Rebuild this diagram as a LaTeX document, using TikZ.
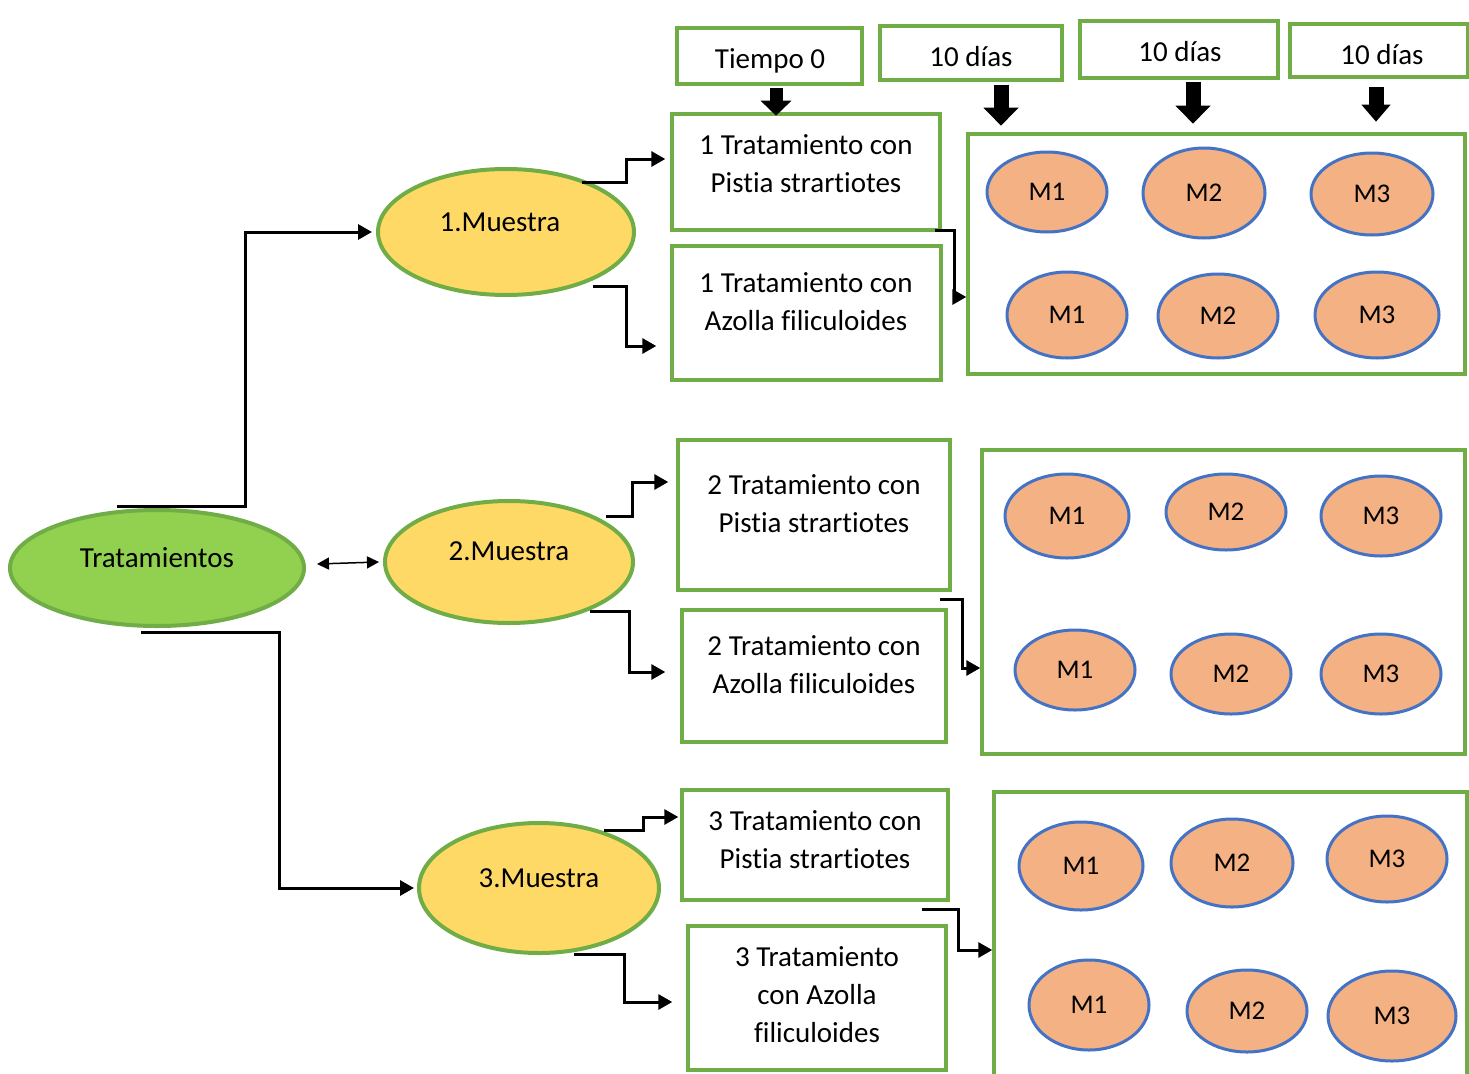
\documentclass[tikz,border=0pt]{standalone}
\usepackage{fontspec}
\setmainfont{Carlito}[Ligatures={NoCommon,NoRare,NoContextual}]
\usetikzlibrary{shapes.geometric,arrows.meta,calc}
\definecolor{gborder}{HTML}{70AD47}
\definecolor{yfill}{HTML}{FFD966}
\definecolor{gfill}{HTML}{92D050}
\definecolor{ofill}{HTML}{F4B183}
\definecolor{mblue}{HTML}{4472C4}
\begin{document}
\begin{tikzpicture}[x=1pt,y=-1pt,
  box/.style={draw=gborder, line width=3.4pt, fill=white, inner sep=0pt, rectangle},
  txt/.style={font=\fontsize{29}{38}\selectfont, align=center, inner sep=0pt},
  sample/.style={ellipse, draw=mblue, fill=ofill, line width=3pt, inner sep=0pt, font=\fontsize{27}{32}\selectfont},
  muestra/.style={ellipse, draw=gborder, fill=yfill, line width=4pt, inner sep=0pt},
  conn/.style={line width=3pt, -{Triangle[length=14pt,width=15pt]}},
  dconn/.style={line width=1.5pt, {Triangle[length=12pt,width=12pt]}-{Triangle[length=12pt,width=12pt]}},
  blockarr/.style={line width=15pt, -{Triangle[length=18pt,width=34pt]}}
]
\useasboundingbox (0,0) rectangle (1469,1073);

% top boxes
\node[box, minimum width=185pt, minimum height=56pt] (tiempo) at (769.5,56) {};
\node[txt] (tiempotxt) at (770,61) {Tiempo 0};
\node[box, minimum width=182pt, minimum height=54pt] (d1) at (971,53) {};
\node[txt] (d1txt) at (971,57) {10 días};
\node[box, minimum width=198pt, minimum height=57pt] (d2) at (1179,49.5) {};
\node[txt] (d2txt) at (1180,52) {10 días};
\node[box, minimum width=178pt, minimum height=53pt] (d3) at (1379,50.5) {};
\node[txt] (d3txt) at (1382,55) {10 días};

% treatment boxes
\node[box, minimum width=268pt, minimum height=116pt] (t1p) at (806,172) {};
\node[txt] (t1ptxt) at (806,164) {1 Tratamiento con\\Pistia strartiotes};
\node[box, minimum width=269pt, minimum height=134pt] (t1a) at (806.5,313) {};
\node[txt] (t1atxt) at (806,302) {1 Tratamiento con\\Azolla filiculoides};
\node[box, minimum width=272pt, minimum height=150pt] (t2p) at (814,515) {};
\node[txt] (t2ptxt) at (814,504) {2 Tratamiento con\\Pistia strartiotes};
\node[box, minimum width=264pt, minimum height=132pt] (t2a) at (814,676) {};
\node[txt] (t2atxt) at (814,665) {2 Tratamiento con\\Azolla filiculoides};
\node[box, minimum width=266pt, minimum height=110pt] (t3p) at (815,845) {};
\node[txt] (t3ptxt) at (815,840) {3 Tratamiento con\\Pistia strartiotes};
\node[box, minimum width=258pt, minimum height=144pt] (t3a) at (817,998) {};
\node[txt] (t3atxt) at (817,995) {3 Tratamiento\\con Azolla\\filiculoides};

% big boxes
\node[box, minimum width=497pt, minimum height=240pt] (b1) at (1216.5,254) {};
\node[box, minimum width=483pt, minimum height=304pt] (b2) at (1223.5,602) {};
\node[box, minimum width=473pt, minimum height=288pt] (b3) at (1230.5,936) {};

% samples
\node[sample, minimum width=120pt, minimum height=80pt] (s11) at (1047,192) {M1};
\node[sample, minimum width=122pt, minimum height=90pt] (s12) at (1204,193) {M2};
\node[sample, minimum width=122pt, minimum height=82pt] (s13) at (1372,194) {M3};
\node[sample, minimum width=120pt, minimum height=86pt] (s14) at (1067,315) {M1};
\node[sample, minimum width=120pt, minimum height=84pt] (s15) at (1218,316) {M2};
\node[sample, minimum width=124pt, minimum height=86pt] (s16) at (1377,315) {M3};

\node[sample, minimum width=124pt, minimum height=84pt] (s21) at (1067,516) {M1};
\node[sample, minimum width=120pt, minimum height=76pt] (s22) at (1226,512) {M2};
\node[sample, minimum width=120pt, minimum height=80pt] (s23) at (1381,516) {M3};
\node[sample, minimum width=120pt, minimum height=80pt] (s24) at (1075,670) {M1};
\node[sample, minimum width=120pt, minimum height=80pt] (s25) at (1231,674) {M2};
\node[sample, minimum width=120pt, minimum height=80pt] (s26) at (1381,674) {M3};

\node[sample, minimum width=124pt, minimum height=88pt] (s31) at (1081,866) {M1};
\node[sample, minimum width=122pt, minimum height=88pt] (s32) at (1232,863) {M2};
\node[sample, minimum width=120pt, minimum height=86pt] (s33) at (1387,859) {M3};
\node[sample, minimum width=120pt, minimum height=90pt] (s34) at (1089,1005) {M1};
\node[sample, minimum width=120pt, minimum height=82pt] (s35) at (1247,1011) {M2};
\node[sample, minimum width=128pt, minimum height=90pt] (s36) at (1392,1016) {M3};

% main ellipses
\node[ellipse, draw=gborder, fill=gfill, line width=4pt, inner sep=0pt, minimum width=294pt, minimum height=116pt] (tr) at (157,568) {};
\node[txt] (trtxt) at (157,558) {Tratamientos};
\node[muestra, minimum width=256pt, minimum height=126pt] (m1) at (506,232) {};
\node[txt] (m1txt) at (500,222) {1.Muestra};
\node[muestra, minimum width=248pt, minimum height=122pt] (m2) at (509,562) {};
\node[txt] (m2txt) at (509,551) {2.Muestra};
\node[muestra, minimum width=240pt, minimum height=130pt] (m3) at (539,888) {};
\node[txt] (m3txt) at (539,878) {3.Muestra};

% block arrows
\draw[blockarr, -{Triangle[length=15pt,width=30pt]}, line width=13pt] ($(tiempo.south)+(6.5,2)$) -- ($(tiempo.south)+(6.5,30)$);
\draw[blockarr] ($(d1.south)+(30,3)$) -- ($(d1.south)+(30,44)$);
\draw[blockarr] ($(d2.south)+(14,2)$) -- ($(d2.south)+(14,44)$);
\draw[blockarr, -{Triangle[length=17pt,width=28pt]}] ($(d3.south)+(-3,8)$) -- ($(d3.south)+(-3,43)$);

% connectors
\draw[conn] ($(tr)+(-40,-62)$) -- ++(128,0) |- ([xshift=-4pt]m1.west);
\draw[conn] ($(tr)+(-16,64)$) -- ++(138,0) |- ([xshift=-3pt]m3.west);
\draw[dconn] ($(tr.east)+(11,-4)$) -- ($(m2.west)+(-4,0)$);

\draw[conn] ($(m1)+(76,-50)$) -- ++(44,0) |- ($(t1p.west)+(-5,-13)$);
\draw[conn] ($(m1)+(87,54)$) -- ++(33,0) |- ($(t1a.west)+(-14,33)$);
\draw[conn] ($(t1p.south east)+(-7,-1)$) -- ++(20,0) |- ($(b1.west)+(0,43)$);

\draw[conn] ($(m2)+(97,-46)$) -- ++(26,0) |- ($(t2p.west)+(-8,-33)$);
\draw[conn] ($(m2)+(81,49)$) -- ++(39,0) |- ($(t2a.west)+(-15,-4)$);
\draw[conn] ($(t2p.south east)+(-12,8)$) -- ++(23,0) |- ($(b2.west)+(0,66)$);

\draw[conn] ($(m3)+(65,-58)$) -- ++(39,0) |- ($(t3p.west)+(-2,-28)$);
\draw[conn] ($(m3)+(35,66)$) -- ++(50,0) |- ($(t3a.west)+(-14,4)$);
\draw[conn] ($(t3p.south east)+(-28,8)$) -- ++(37,0) |- ($(b3.west)+(0,14)$);
\end{tikzpicture}
\end{document}
